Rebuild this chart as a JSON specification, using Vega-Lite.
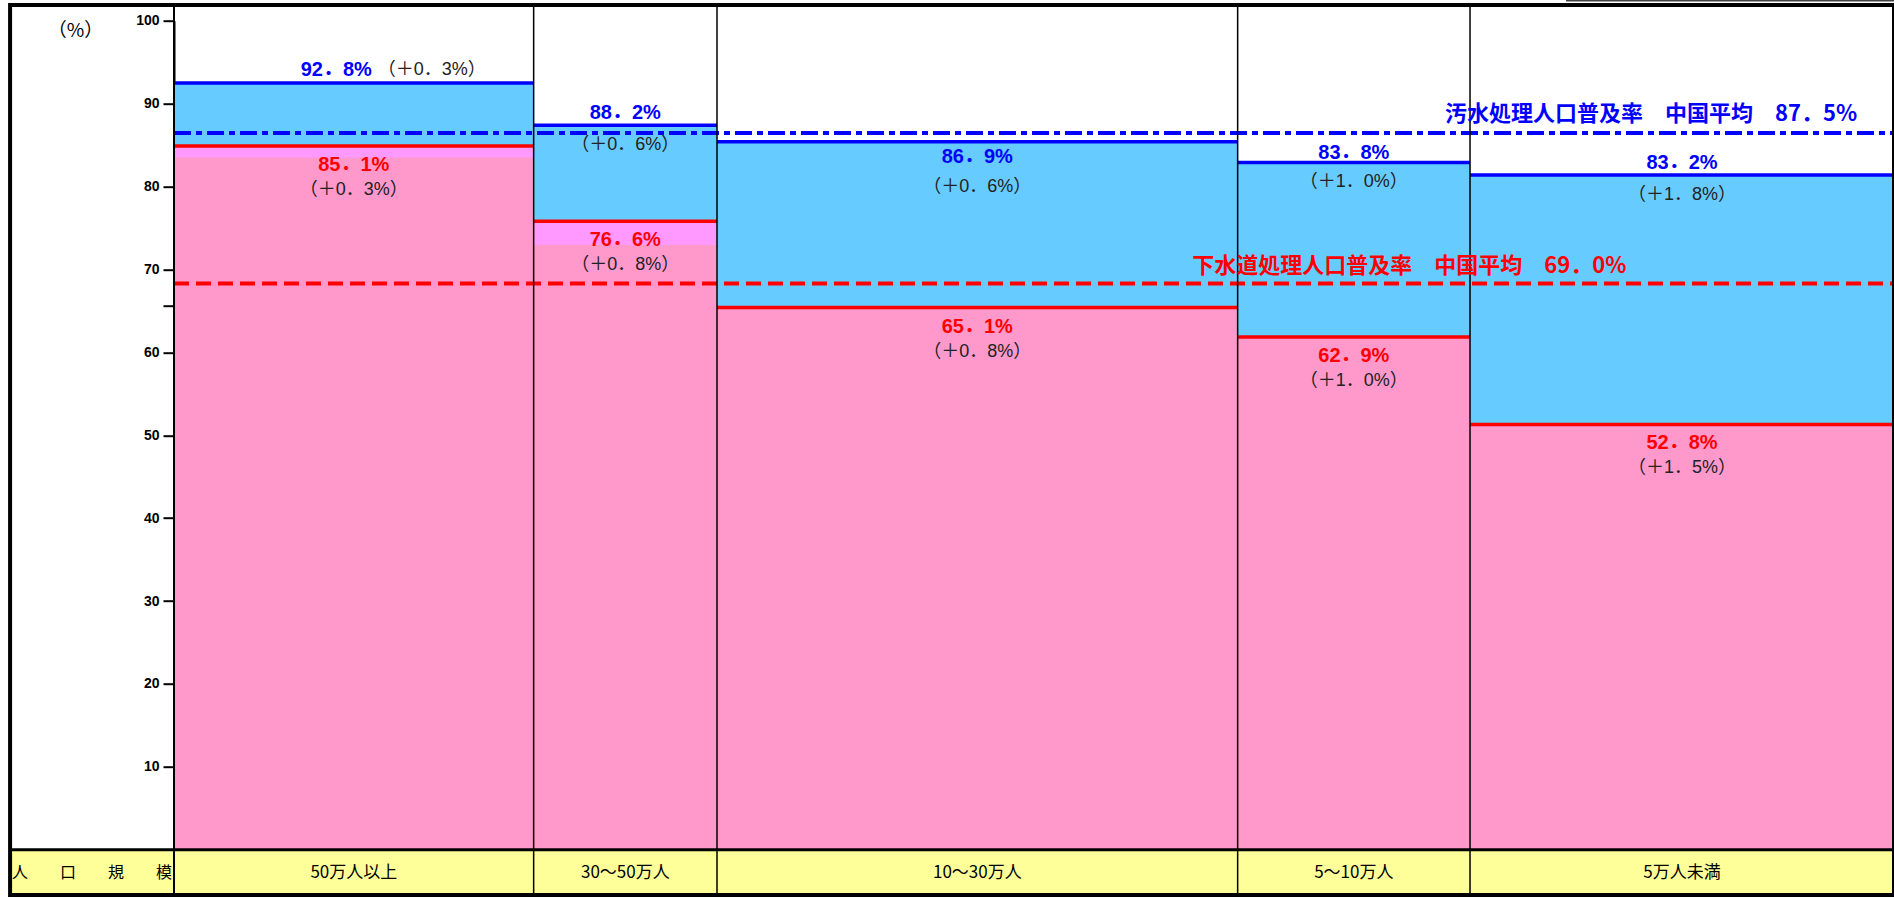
{
  "$schema": "https://vega.github.io/schema/vega-lite/v6.json",
  "width": 1720,
  "height": 829,
  "autosize": {"type": "none"},
  "padding": {"left": 174, "top": 20.7, "right": 0, "bottom": 48.3},
  "background": "white",
  "config": {"view": {"stroke": null}, "text": {"font": "Liberation Sans, Noto Sans CJK JP"}},
  "datasets": {
    "cols": [
      {"size": "50万人以上", "x0": 0, "x1": 20.91, "sewer": 84.9, "sewerPrev": 83.5, "total": 92.5, "sewerText": "85．1%", "sewerDiff": "（＋0．3%）", "totalText": "92．8%", "totalDiff": "（＋0．3%）"},
      {"size": "30～50万人", "x0": 20.91, "x1": 31.57, "sewer": 75.8, "sewerPrev": 72.95, "total": 87.4, "sewerText": "76．6%", "sewerDiff": "（＋0．8%）", "totalText": "88．2%", "totalDiff": "（＋0．6%）"},
      {"size": "10～30万人", "x0": 31.57, "x1": 61.84, "sewer": 65.4, "sewerPrev": null, "total": 85.4, "sewerText": "65．1%", "sewerDiff": "（＋0．8%）", "totalText": "86．9%", "totalDiff": "（＋0．6%）"},
      {"size": "5～10万人", "x0": 61.84, "x1": 75.35, "sewer": 61.85, "sewerPrev": null, "total": 82.9, "sewerText": "62．9%", "sewerDiff": "（＋1．0%）", "totalText": "83．8%", "totalDiff": "（＋1．0%）"},
      {"size": "5万人未満", "x0": 75.35, "x1": 100, "sewer": 51.3, "sewerPrev": null, "total": 81.4, "sewerText": "52．8%", "sewerDiff": "（＋1．5%）", "totalText": "83．2%", "totalDiff": "（＋1．8%）"}
    ],
    "avg": [
      {"series": "汚水処理", "level": 86.45, "label": "汚水処理人口普及率　中国平均　87．5%"},
      {"series": "下水道", "level": 68.3, "label": "下水道処理人口普及率　中国平均　69．0%"}
    ]
  },
  "data": {"name": "cols"},
  "transform": [{"calculate": "(datum.x0 + datum.x1) / 2", "as": "mid"}],
  "layer": [
    {
      "data": {"values": [{}]},
      "mark": {"type": "rect", "fill": "#FFFF99"},
      "encoding": {
        "x": {"datum": -9.53, "type": "quantitative", "scale": {"domain": [0, 100]}, "axis": null},
        "x2": {"datum": 100},
        "y": {"datum": -5.46, "type": "quantitative", "scale": {"domain": [0, 100]},
          "axis": {"values": [10, 20, 30, 40, 50, 60, 65.6, 70, 80, 90, 100],
            "labelExpr": "datum.value % 10 === 0 ? datum.label : ''",
            "title": "（%）", "titleAngle": 0, "titleX": -99, "titleY": 9.3,
            "titleAlign": "center", "titleBaseline": "middle", "titleFontSize": 19,
            "titleFontWeight": "normal", "titleFont": "Noto Sans CJK JP", "titleColor": "#000",
            "labelFont": "Liberation Sans", "labelFontWeight": "bold", "labelFontSize": 14,
            "labelColor": "#000", "labelFlush": false, "labelOverlap": false, "labelBound": false,
            "tickColor": "#000", "tickWidth": 2, "tickSize": 11,
            "domainColor": "#000", "domainWidth": 2, "labelPadding": 4, "grid": false}},
        "y2": {"datum": 0}
      }
    },
    {
      "mark": {"type": "rect", "fill": "#FF99CC"},
      "encoding": {
        "x": {"field": "x0", "type": "quantitative", "axis": null},
        "x2": {"field": "x1"},
        "y": {"field": "sewer", "type": "quantitative"},
        "y2": {"datum": 0}
      }
    },
    {
      "transform": [{"filter": "isValid(datum.sewerPrev)"}],
      "mark": {"type": "rect", "fill": "#FF99FF"},
      "encoding": {
        "x": {"field": "x0", "type": "quantitative", "axis": null},
        "x2": {"field": "x1"},
        "y": {"field": "sewer", "type": "quantitative"},
        "y2": {"field": "sewerPrev"}
      }
    },
    {
      "mark": {"type": "rect", "fill": "#66CCFF"},
      "encoding": {
        "x": {"field": "x0", "type": "quantitative", "axis": null},
        "x2": {"field": "x1"},
        "y": {"field": "total", "type": "quantitative"},
        "y2": {"field": "sewer"}
      }
    },
    {
      "data": {"name": "avg"},
      "mark": {"type": "rule", "strokeWidth": 4},
      "encoding": {
        "x": {"datum": 0, "type": "quantitative", "axis": null},
        "x2": {"datum": 100},
        "y": {"field": "level", "type": "quantitative"},
        "color": {"field": "series", "type": "nominal", "scale": {"domain": ["汚水処理", "下水道"], "range": ["#0000FF", "#FF0000"]}, "legend": null},
        "strokeDash": {"field": "series", "type": "nominal", "scale": {"domain": ["汚水処理", "下水道"], "range": [[17, 5, 6, 5], [15, 7]]}, "legend": null}
      }
    },
    {
      "mark": {"type": "rule", "stroke": "#0000FF", "strokeWidth": 3.5},
      "encoding": {
        "x": {"field": "x0", "type": "quantitative", "axis": null},
        "x2": {"field": "x1"},
        "y": {"field": "total", "type": "quantitative"}
      }
    },
    {
      "mark": {"type": "rule", "stroke": "#FF0000", "strokeWidth": 3.5},
      "encoding": {
        "x": {"field": "x0", "type": "quantitative", "axis": null},
        "x2": {"field": "x1"},
        "y": {"field": "sewer", "type": "quantitative"}
      }
    },
    {
      "mark": {"type": "rule", "stroke": "#000", "strokeWidth": 1.5},
      "encoding": {
        "x": {"field": "x1", "type": "quantitative", "axis": null},
        "y": {"datum": -5.46, "type": "quantitative"},
        "y2": {"datum": 101.9}
      }
    },
    {
      "data": {"values": [{}]},
      "mark": {"type": "rule", "stroke": "#000", "strokeWidth": 2},
      "encoding": {
        "x": {"datum": 0, "type": "quantitative", "axis": null},
        "y": {"datum": -5.46, "type": "quantitative"},
        "y2": {"datum": 101.9}
      }
    },
    {
      "data": {"values": [{}]},
      "mark": {"type": "rule", "stroke": "#000", "strokeWidth": 3},
      "encoding": {
        "x": {"datum": -9.53, "type": "quantitative", "axis": null},
        "x2": {"datum": 100},
        "y": {"datum": 0, "type": "quantitative"}
      }
    },
    {
      "data": {"values": [{}]},
      "mark": {"type": "rect", "fillOpacity": 0, "stroke": "#000", "strokeWidth": 4},
      "encoding": {
        "x": {"datum": -9.53, "type": "quantitative", "axis": null},
        "x2": {"datum": 100},
        "y": {"datum": -5.46, "type": "quantitative"},
        "y2": {"datum": 101.9}
      }
    },
    {
      "data": {"values": [{}]},
      "mark": {"type": "rule", "stroke": "#444", "strokeWidth": 2},
      "encoding": {
        "x": {"datum": 80.93, "type": "quantitative", "axis": null},
        "x2": {"datum": 100},
        "y": {"datum": 102.44, "type": "quantitative"}
      }
    },
    {
      "data": {"name": "avg"},
      "transform": [{"filter": "datum.series === '汚水処理'"}],
      "mark": {"type": "text", "align": "left", "baseline": "middle", "dy": -19, "fontSize": 22, "fontWeight": "bold", "font": "Noto Sans CJK JP"},
      "encoding": {
        "x": {"datum": 73.9, "type": "quantitative", "axis": null},
        "y": {"field": "level", "type": "quantitative"},
        "text": {"field": "label"},
        "color": {"field": "series", "type": "nominal", "legend": null}
      }
    },
    {
      "data": {"name": "avg"},
      "transform": [{"filter": "datum.series === '下水道'"}],
      "mark": {"type": "text", "align": "left", "baseline": "middle", "dy": -17, "fontSize": 22, "fontWeight": "bold", "font": "Noto Sans CJK JP"},
      "encoding": {
        "x": {"datum": 59.2, "type": "quantitative", "axis": null},
        "y": {"field": "level", "type": "quantitative"},
        "text": {"field": "label"},
        "color": {"field": "series", "type": "nominal", "legend": null}
      }
    },
    {
      "transform": [{"filter": "datum.size === '30～50万人' || datum.size === '5万人未満'"}],
      "mark": {"type": "text", "align": "center", "baseline": "middle", "dy": -12, "fontSize": 20, "fontWeight": "bold", "color": "#0000FF"},
      "encoding": {
        "x": {"field": "mid", "type": "quantitative", "axis": null},
        "y": {"field": "total", "type": "quantitative"},
        "text": {"field": "totalText"}
      }
    },
    {
      "transform": [{"filter": "datum.size === '5～10万人'"}],
      "mark": {"type": "text", "align": "center", "baseline": "middle", "dy": -9, "fontSize": 20, "fontWeight": "bold", "color": "#0000FF"},
      "encoding": {
        "x": {"field": "mid", "type": "quantitative", "axis": null},
        "y": {"field": "total", "type": "quantitative"},
        "text": {"field": "totalText"}
      }
    },
    {
      "transform": [{"filter": "datum.size === '30～50万人' || datum.size === '5～10万人' || datum.size === '5万人未満'"}],
      "mark": {"type": "text", "align": "center", "baseline": "middle", "dy": 20, "fontSize": 18, "color": "#222"},
      "encoding": {
        "x": {"field": "mid", "type": "quantitative", "axis": null},
        "y": {"field": "total", "type": "quantitative"},
        "text": {"field": "totalDiff"}
      }
    },
    {
      "transform": [{"filter": "datum.size === '50万人以上'"}],
      "mark": {"type": "text", "align": "right", "baseline": "middle", "dx": 18, "dy": -13, "fontSize": 20, "fontWeight": "bold", "color": "#0000FF"},
      "encoding": {
        "x": {"field": "mid", "type": "quantitative", "axis": null},
        "y": {"field": "total", "type": "quantitative"},
        "text": {"field": "totalText"}
      }
    },
    {
      "transform": [{"filter": "datum.size === '50万人以上'"}],
      "mark": {"type": "text", "align": "left", "baseline": "middle", "dx": 24, "dy": -13, "fontSize": 18, "color": "#222"},
      "encoding": {
        "x": {"field": "mid", "type": "quantitative", "axis": null},
        "y": {"field": "total", "type": "quantitative"},
        "text": {"field": "totalDiff"}
      }
    },
    {
      "transform": [{"filter": "datum.size === '10～30万人'"}],
      "mark": {"type": "text", "align": "center", "baseline": "middle", "dy": 15, "fontSize": 20, "fontWeight": "bold", "color": "#0000FF"},
      "encoding": {
        "x": {"field": "mid", "type": "quantitative", "axis": null},
        "y": {"field": "total", "type": "quantitative"},
        "text": {"field": "totalText"}
      }
    },
    {
      "transform": [{"filter": "datum.size === '10～30万人'"}],
      "mark": {"type": "text", "align": "center", "baseline": "middle", "dy": 45, "fontSize": 18, "color": "#222"},
      "encoding": {
        "x": {"field": "mid", "type": "quantitative", "axis": null},
        "y": {"field": "total", "type": "quantitative"},
        "text": {"field": "totalDiff"}
      }
    },
    {
      "mark": {"type": "text", "align": "center", "baseline": "middle", "dy": 19, "fontSize": 20, "fontWeight": "bold", "color": "#FF0000"},
      "encoding": {
        "x": {"field": "mid", "type": "quantitative", "axis": null},
        "y": {"field": "sewer", "type": "quantitative"},
        "text": {"field": "sewerText"}
      }
    },
    {
      "mark": {"type": "text", "align": "center", "baseline": "middle", "dy": 44, "fontSize": 18, "color": "#222"},
      "encoding": {
        "x": {"field": "mid", "type": "quantitative", "axis": null},
        "y": {"field": "sewer", "type": "quantitative"},
        "text": {"field": "sewerDiff"}
      }
    },
    {
      "mark": {"type": "text", "align": "center", "baseline": "middle", "fontSize": 17, "color": "#000", "font": "Noto Sans CJK JP"},
      "encoding": {
        "x": {"field": "mid", "type": "quantitative", "axis": null},
        "y": {"datum": -2.81, "type": "quantitative"},
        "text": {"field": "size"}
      }
    },
    {
      "data": {"values": [{}]},
      "mark": {"type": "text", "align": "center", "baseline": "middle", "fontSize": 16, "color": "#000", "font": "Noto Sans CJK JP", "text": "人　　口　　規　　模"},
      "encoding": {
        "x": {"datum": -4.77, "type": "quantitative", "axis": null},
        "y": {"datum": -2.81, "type": "quantitative"}
      }
    }
  ]
}
